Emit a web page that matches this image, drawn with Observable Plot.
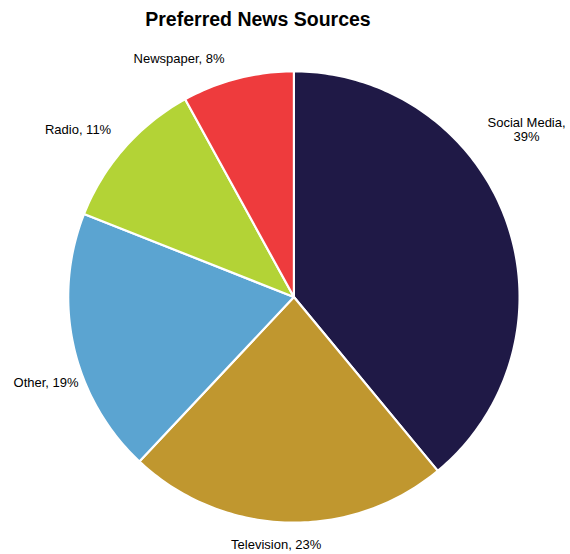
<!DOCTYPE html>
<html>
<head>
<meta charset="utf-8">
<script src="https://cdn.jsdelivr.net/npm/d3@7"></script>
<script src="https://cdn.jsdelivr.net/npm/@observablehq/plot@0.6"></script>
<style>
  html, body { margin: 0; padding: 0; background: #fff; }
  #wrap { width: 570px; height: 554px; overflow: hidden; }
  #title { width: 516px; height: 36px; line-height: 36px; padding-top: 1px; box-sizing: border-box;
           text-align: center; font-family: "Liberation Sans", Arial, sans-serif; font-weight: bold;
           font-size: 19.5px; color: #000; }
  svg { display: block; }
</style>
</head>
<body>
<div id="wrap">
  <div id="title">Preferred News Sources</div>
  <div id="chart"></div>
</div>
<script>
// ---- data ----
const categories = ["Social Media", "Television", "Other", "Radio", "Newspaper"];
const shares = [39, 23, 19, 11, 8];
const labels = ["Social Media,\n39%", "Television, 23%", "Other, 19%", "Radio, 11%", "Newspaper, 8%"];
const colors = ["#1f1946", "#c0972f", "#5ba4d1", "#b3d336", "#ee3b3d"];

// ---- label layout (polar: clock angle in degrees, distance in pie radii) ----
const labelAngle = [54.2, 184.1, 250.9, 307.9, 334.3];
const labelDist = [1.271, 1.097, 1.162, 1.212, 1.173];

// ---- geometry derived through d3.pie ----
const arcs = d3.pie().sort(null).value(d => d)(shares);
const slicePts = [];
arcs.forEach((a, i) => {
  const name = categories[i];
  slicePts.push({name, x: 0, y: 0});
  const n = Math.max(2, Math.ceil((a.endAngle - a.startAngle) / (2 * Math.PI) * 360));
  for (let k = 0; k <= n; k++) {
    const t = a.startAngle + (a.endAngle - a.startAngle) * k / n;
    slicePts.push({name, x: Math.sin(t), y: Math.cos(t)});
  }
  slicePts.push({name, x: 0, y: 0});
});
const labelData = categories.map((c, i) => {
  const t = labelAngle[i] * Math.PI / 180;
  return {name: c, text: labels[i], x: labelDist[i] * Math.sin(t), y: labelDist[i] * Math.cos(t)};
});

const cx = 293.4, cy = 260.5, r = 225.7;
const chart = Plot.plot({
  width: 570,
  height: 518,
  margin: 0,
  x: {domain: [-1, 1], range: [cx - r, cx + r], axis: null},
  y: {domain: [-1, 1], range: [cy + r, cy - r], axis: null},
  color: {domain: categories, range: colors},
  style: {background: "#fff", fontFamily: "'Liberation Sans', Arial, sans-serif"},
  marks: [
    Plot.line(slicePts, {x: "x", y: "y", z: "name", fill: "name", stroke: "#fff", strokeWidth: 2.2, strokeLinejoin: "round", curve: "linear"}),
    Plot.text(labelData, {x: "x", y: "y", text: "text", fontSize: 13, fill: "#000", textAnchor: "middle", lineAnchor: "middle", lineHeight: 1.1})
  ]
});
document.getElementById("chart").appendChild(chart);
</script>
</body>
</html>
